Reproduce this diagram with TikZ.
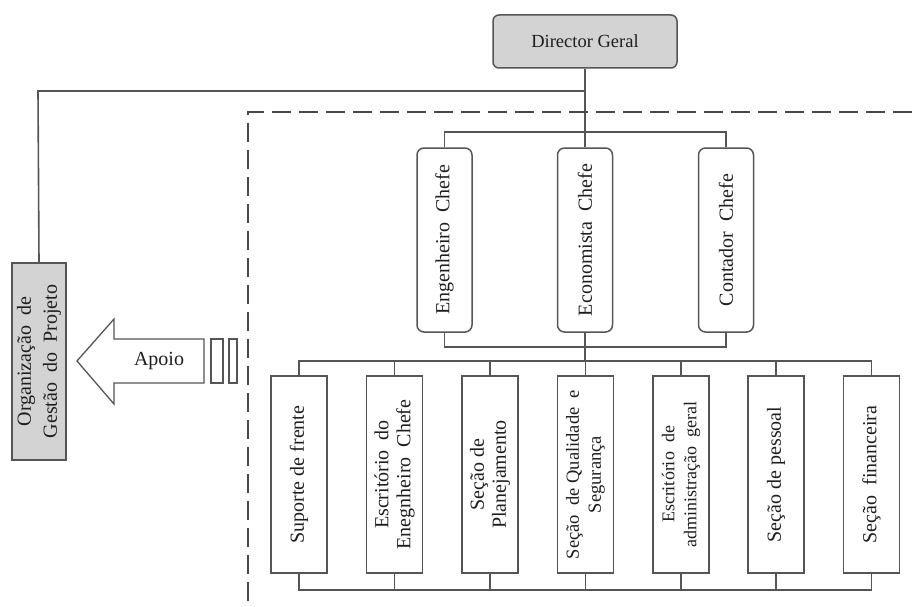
\documentclass[tikz,border=0pt]{standalone}
\usepackage{fontspec}
\setmainfont{Liberation Serif}
\usepackage{tikz}
\usetikzlibrary{positioning}

\definecolor{boxgray}{HTML}{D3D3D3}
\definecolor{edgegray}{HTML}{555555}
\definecolor{textgray}{HTML}{1E1E1E}

\tikzset{
  chart/.style={draw=edgegray, line width=1.5pt, text=textgray, align=center, inner sep=2pt},
  chiefbox/.style={chart, rounded corners=7pt, rotate=90, minimum width=184pt, minimum height=55pt, font=\fontsize{20}{22}\selectfont},
  sectbox/.style={chart, rotate=90, minimum width=197pt, minimum height=56pt, font=\fontsize{20}{22}\selectfont},
  link/.style={draw=edgegray, line width=1.6pt},
  frontier/.style={draw=edgegray!85!black, line width=2pt, dash pattern=on 19pt off 8pt}
}

\begin{document}
\begin{tikzpicture}[x=1pt,y=-1pt]
          \useasboundingbox (0,0) rectangle (912,607);
          % top
          \node[chart, fill=boxgray, rounded corners=6pt, minimum width=184pt, minimum height=53pt, font=\fontsize{18.5}{20}\selectfont] (dir) at (585,41.5){Director Geral};
          % chiefs
          \node[chiefbox] (eng) at (444.5,240){Engenheiro\ \ Chefe};
          \node[chiefbox] (eco) at (585,240){Economista\ \ Chefe};
          \node[chiefbox] (cont) at (726,240){Contador\ \ Chefe};
          % sections
          \node[sectbox] (sup) at (299,474.5){Suporte de frente};
          \node[sectbox] (esc) at (394.5,474.5){Escritório\ \ do\\Enegnheiro\ \ Chefe};
          \node[sectbox] (plan) at (490,474.5){Seção de\\Planejamento};
          \node[sectbox, font=\fontsize{18.5}{22}\selectfont] (qual) at (585.5,474.5){Seção\ \ de Qualidade\ \ e\\Segurança};
          \node[sectbox, font=\fontsize{18}{22}\selectfont] (adm) at (681,474.5){Escritório\ \ de\\administração\ \ geral};
          \node[sectbox] (pes) at (776,474.5){Seção de pessoal};
          \node[sectbox] (fin) at (871.5,474.5){Seção\ \ financeira};
          % project office
          \node[chart, fill=boxgray, rotate=90, minimum width=197pt, minimum height=54pt, font=\fontsize{20}{26}\selectfont] (pm) at (39,361.5){Organização\ \ de\\Gestão\ \ do\ \ Projeto};
          % support arrow
          \draw[chart, line width=1.3pt] (77,361) -- (114,319) -- (114,339) -- (204,339) -- (204,383) -- (114,383) -- (114,404) -- cycle;
          \node[font=\fontsize{20}{22}\selectfont, text=textgray] (apoio) at (159,361){Apoio};
          \node[chart, line width=1.3pt, minimum width=12pt, minimum height=44pt, inner sep=0pt] (bar1) at (217,361){};
          \node[chart, line width=1.3pt, minimum width=8pt, minimum height=44pt, inner sep=0pt] (bar2) at (233,361){};
          % links
          \coordinate (split) at (585,91);
          \draw[link] (dir) -- (eco);
          \draw[link] (split) -- (38,91) -- (pm.east);
          \draw[link] (eng.east) -- ++(0,-15) -| (cont.east);
          \draw[link] (eng.west) -- ++(0,14) -| (cont.west);
          \draw[link] (eco.west) -- (585,362);
          \draw[link] (sup.east) -- ++(0,-14) -| (fin.east);
          \draw[link] (esc.east) -- ++(0,-14);
          \draw[link] (plan.east) -- ++(0,-14);
          \draw[link] (qual.east) -- ++(0,-14);
          \draw[link] (adm.east) -- ++(0,-14);
          \draw[link] (pes.east) -- ++(0,-14);
          \draw[link] (sup.west) -- ++(0,16) -| (fin.west);
          \draw[link] (esc.west) -- ++(0,16);
          \draw[link] (plan.west) -- ++(0,16);
          \draw[link] (qual.west) -- ++(0,16);
          \draw[link] (adm.west) -- ++(0,16);
          \draw[link] (pes.west) -- ++(0,16);
          % boundary
          \draw[frontier] (912,112) -- (248,112) -- (248,607);
        \end{tikzpicture}
\end{document}
